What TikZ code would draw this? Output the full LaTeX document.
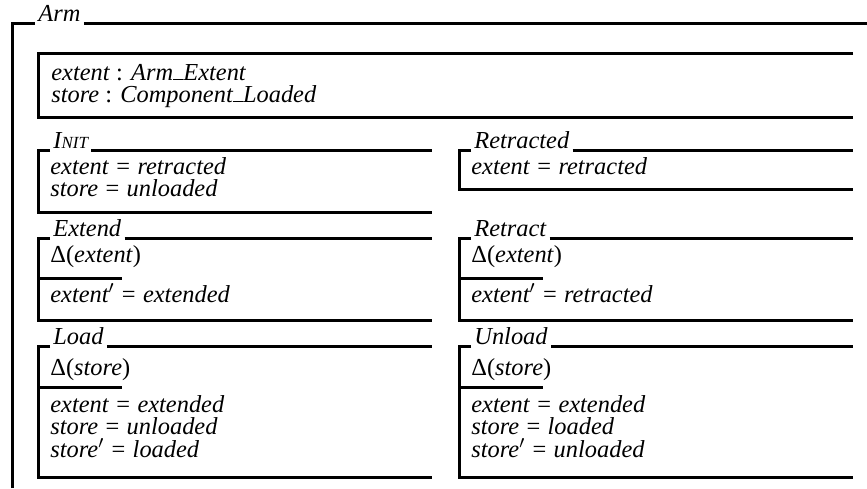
\documentclass[tikz,border=0pt]{standalone}
\usepackage{fontspec}
\setmainfont{Liberation Serif}
\newcommand{\zbar}{\rule{0.42em}{0.7pt}}
\newcommand{\zeq}{\hspace{0.3em}\textup{=}\hspace{0.3em}}

\begin{document}
\begin{tikzpicture}[
            x = 0.5pt, y = -0.5pt,
            every node/.style={inner sep=0pt, text depth=0pt, font=\fontsize{12.2}{12}\selectfont\itshape},
            line/.style={line width = 1.5pt},
            title/.style={anchor=south west, inner xsep=1.5pt, inner ysep=0.75pt},
            row/.style={anchor=base west},
            ]
        \useasboundingbox (0,0) rectangle (867,488);
        % Arm
        \node[title] (arm) at (35,23) {Arm};
        \draw[line] (12,488) -- (12,23) -- (arm.south west);
        \draw[line] (arm.south east) -- (867,23);
        \draw[line] (853,53) -- (38,53) -- (38,117) -- (853,117);
        \node[row] (extentdecl) at (51,80) {extent \textup{:} Arm\zbar Extent};
        \node[row] (storedecl) at (51,102) {store \textup{:} Component\zbar Loaded};
        % Init
        \node[title] (init) at (50,150) {I{\fontsize{8.5}{8.5}\selectfont NIT}};
        \draw[line] (init.south east) -- (432,150);
        \draw[line] (init.south west) -- (38,150) -- (38,212) -- (432,212);
        \node[row] (initextent) at (50,174) {extent\zeq retracted};
        \node[row] (initstore) at (50,196) {store\zeq unloaded};
        % Retracted
        \node[title] (retracted) at (471,150) {Retracted};
        \draw[line] (retracted.south east) -- (853,150);
        \draw[line] (retracted.south west) -- (459,150) -- (459,189) -- (853,189);
        \node[row] (retractedextent) at (471,174) {extent\zeq retracted};
        % Extend
        \node[title] (extend) at (50,238) {Extend};
        \draw[line] (extend.south east) -- (432,238);
        \draw[line] (extend.south west) -- (38,238) -- (38,320) -- (432,320);
        \draw[line] (38,278) -- (122,278);
        \node[row] (extenddelta) at (50,262) {\textup{Δ(}extent\textup{)}};
        \node[row] (extendpost) at (50,302) {extent$'$\zeq extended};
        % Retract
        \node[title] (retract) at (471,238) {Retract};
        \draw[line] (retract.south east) -- (853,238);
        \draw[line] (retract.south west) -- (459,238) -- (459,320) -- (853,320);
        \draw[line] (459,278) -- (543,278);
        \node[row] (retractdelta) at (471,262) {\textup{Δ(}extent\textup{)}};
        \node[row] (retractpost) at (471,302) {extent$'$\zeq retracted};
        % Load
        \node[title] (load) at (50,346) {Load};
        \draw[line] (load.south east) -- (432,346);
        \draw[line] (load.south west) -- (38,346) -- (38,477) -- (432,477);
        \draw[line] (38,387) -- (122,387);
        \node[row] (loaddelta) at (50,375) {\textup{Δ(}store\textup{)}};
        \node[row] (loadextent) at (50,412) {extent\zeq extended};
        \node[row] (loadstore) at (50,434.5) {store\zeq unloaded};
        \node[row] (loadpost) at (50,457) {store$'$\zeq loaded};
        % Unload
        \node[title] (unload) at (471,346) {Unload};
        \draw[line] (unload.south east) -- (853,346);
        \draw[line] (unload.south west) -- (459,346) -- (459,477) -- (853,477);
        \draw[line] (459,387) -- (543,387);
        \node[row] (unloaddelta) at (471,375) {\textup{Δ(}store\textup{)}};
        \node[row] (unloadextent) at (471,412) {extent\zeq extended};
        \node[row] (unloadstore) at (471,434.5) {store\zeq loaded};
        \node[row] (unloadpost) at (471,457) {store$'$\zeq unloaded};
    \end{tikzpicture}
\end{document}
